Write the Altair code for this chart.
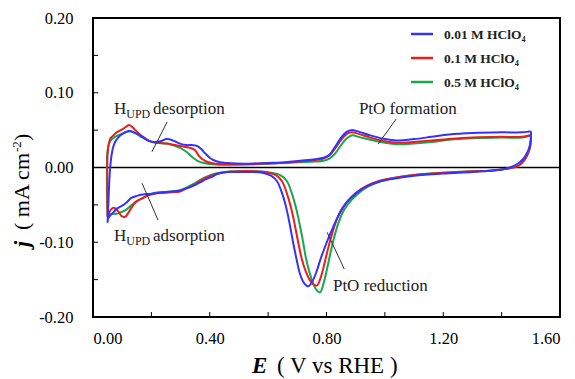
import altair as alt
import pandas as pd

# ---------------- data ----------------
series_names = ["0.01 M HClO\u2084", "0.1 M HClO\u2084", "0.5 M HClO\u2084"]
series_colors = ["#3333FF", "#EE1C1C", "#16A84A"]

blue_E = [0.050, 0.053, 0.057, 0.062, 0.069, 0.077, 0.086, 0.100, 0.115, 0.127, 0.140, 0.161, 0.185, 0.206,
          0.230, 0.253, 0.275, 0.298, 0.320, 0.340, 0.356, 0.370, 0.384, 0.400, 0.412, 0.435, 0.460, 0.520,
          0.600, 0.660, 0.710, 0.760, 0.790, 0.810, 0.830, 0.850, 0.870, 0.885, 0.910, 0.950, 1.000, 1.040,
          1.100, 1.160, 1.220, 1.300, 1.400, 1.470, 1.495, 1.500,
          1.500, 1.497, 1.488, 1.473, 1.455, 1.435, 1.410, 1.370, 1.300, 1.200, 1.100, 1.030, 0.980, 0.940,
          0.900, 0.870, 0.846, 0.820, 0.800, 0.780, 0.767, 0.752, 0.737, 0.722, 0.709, 0.697, 0.686, 0.675,
          0.664, 0.650, 0.630, 0.610, 0.580, 0.540, 0.500, 0.460, 0.430, 0.410, 0.385, 0.367, 0.340, 0.320,
          0.298, 0.270, 0.240, 0.200, 0.170, 0.150, 0.130, 0.117, 0.100, 0.082, 0.065, 0.052, 0.050]
blue_j = [-0.074, -0.045, -0.010, 0.012, 0.027, 0.035, 0.040, 0.045, 0.048, 0.049, 0.047, 0.043, 0.037, 0.034,
          0.035, 0.038, 0.036, 0.032, 0.030, 0.030, 0.029, 0.025, 0.019, 0.013, 0.010, 0.007, 0.006, 0.005,
          0.006, 0.007, 0.009, 0.011, 0.013, 0.017, 0.028, 0.040, 0.048, 0.050, 0.048, 0.043, 0.038, 0.036,
          0.038, 0.041, 0.044, 0.046, 0.047, 0.047, 0.048, 0.048,
          0.040, 0.030, 0.020, 0.011, 0.005, 0.001, -0.002, -0.004, -0.006, -0.008, -0.011, -0.015, -0.019, -0.025,
          -0.035, -0.046, -0.061, -0.082, -0.101, -0.122, -0.138, -0.152, -0.159, -0.154, -0.142, -0.122, -0.101, -0.078,
          -0.057, -0.037, -0.018, -0.011, -0.007, -0.006, -0.006, -0.006, -0.008, -0.012, -0.016, -0.020, -0.025, -0.028,
          -0.031, -0.032, -0.033, -0.035, -0.036, -0.038, -0.041, -0.046, -0.051, -0.055, -0.062, -0.068, -0.074]

red_E = [0.050, 0.049, 0.049, 0.050, 0.055, 0.060, 0.070, 0.081, 0.100, 0.115, 0.123, 0.135, 0.150, 0.175,
         0.195, 0.220, 0.253, 0.280, 0.310, 0.335, 0.350, 0.362, 0.375, 0.395, 0.420, 0.480, 0.560, 0.640,
         0.710, 0.760, 0.790, 0.810, 0.830, 0.850, 0.870, 0.885, 0.910, 0.950, 1.000, 1.040, 1.100, 1.160,
         1.220, 1.300, 1.400, 1.470, 1.495, 1.500,
         1.500, 1.497, 1.490, 1.478, 1.460, 1.440, 1.410, 1.370, 1.300, 1.200, 1.100, 1.030, 0.980, 0.940,
         0.900, 0.875, 0.850, 0.830, 0.811, 0.795, 0.782, 0.767, 0.755, 0.742, 0.728, 0.715, 0.703, 0.692,
         0.681, 0.667, 0.647, 0.625, 0.600, 0.550, 0.500, 0.460, 0.430, 0.405, 0.385, 0.367, 0.345, 0.320,
         0.298, 0.270, 0.240, 0.210, 0.190, 0.170, 0.150, 0.135, 0.122, 0.110, 0.098, 0.085, 0.072, 0.062,
         0.054, 0.050]
red_j = [-0.066, -0.035, -0.005, 0.019, 0.033, 0.039, 0.043, 0.047, 0.051, 0.055, 0.057, 0.054, 0.048, 0.040,
         0.035, 0.033, 0.032, 0.030, 0.028, 0.026, 0.023, 0.016, 0.011, 0.007, 0.005, 0.004, 0.005, 0.006,
         0.008, 0.010, 0.012, 0.016, 0.026, 0.037, 0.045, 0.047, 0.045, 0.040, 0.035, 0.033, 0.034, 0.036,
         0.038, 0.040, 0.041, 0.041, 0.043, 0.043,
         0.036, 0.027, 0.019, 0.010, 0.003, 0.000, -0.002, -0.004, -0.005, -0.007, -0.010, -0.014, -0.018, -0.024,
         -0.034, -0.044, -0.057, -0.075, -0.100, -0.125, -0.145, -0.158, -0.156, -0.150, -0.138, -0.122, -0.100, -0.078,
         -0.058, -0.038, -0.018, -0.010, -0.007, -0.005, -0.005, -0.006, -0.008, -0.011, -0.014, -0.018, -0.024, -0.028,
         -0.032, -0.033, -0.034, -0.035, -0.037, -0.041, -0.045, -0.052, -0.060, -0.066, -0.065, -0.058, -0.054, -0.056,
         -0.062, -0.066]

green_E = [0.050, 0.048, 0.048, 0.049, 0.054, 0.060, 0.075, 0.100, 0.120, 0.130, 0.145, 0.165, 0.190, 0.220,
           0.253, 0.280, 0.300, 0.320, 0.340, 0.358, 0.380, 0.420, 0.500, 0.600, 0.700, 0.760, 0.790, 0.810,
           0.830, 0.850, 0.870, 0.888, 0.910, 0.950, 1.000, 1.040, 1.100, 1.160, 1.220, 1.300, 1.400, 1.470,
           1.495, 1.500,
           1.500, 1.497, 1.490, 1.478, 1.460, 1.440, 1.410, 1.370, 1.300, 1.200, 1.100, 1.030, 0.980, 0.940,
           0.905, 0.880, 0.860, 0.840, 0.822, 0.806, 0.792, 0.778, 0.768, 0.757, 0.743, 0.730, 0.720, 0.709,
           0.698, 0.684, 0.664, 0.640, 0.610, 0.560, 0.500, 0.450, 0.420, 0.398, 0.380, 0.362, 0.345, 0.325,
           0.300, 0.270, 0.240, 0.210, 0.190, 0.170, 0.150, 0.130, 0.112, 0.095, 0.080, 0.065, 0.054, 0.050]
green_j = [-0.066, -0.035, -0.005, 0.018, 0.031, 0.036, 0.041, 0.045, 0.048, 0.048, 0.046, 0.041, 0.036, 0.033,
           0.032, 0.029, 0.026, 0.021, 0.014, 0.009, 0.006, 0.004, 0.004, 0.005, 0.007, 0.008, 0.009, 0.012,
           0.019, 0.030, 0.039, 0.043, 0.041, 0.037, 0.033, 0.031, 0.032, 0.034, 0.037, 0.039, 0.040, 0.040,
           0.042, 0.042,
           0.035, 0.026, 0.018, 0.010, 0.003, 0.000, -0.002, -0.004, -0.005, -0.007, -0.010, -0.014, -0.019, -0.026,
           -0.036, -0.046, -0.057, -0.075, -0.100, -0.128, -0.152, -0.167, -0.165, -0.158, -0.142, -0.122, -0.100, -0.078,
           -0.058, -0.038, -0.018, -0.010, -0.007, -0.005, -0.005, -0.006, -0.008, -0.011, -0.014, -0.018, -0.022, -0.026,
           -0.030, -0.032, -0.033, -0.034, -0.037, -0.041, -0.045, -0.051, -0.057, -0.060, -0.062, -0.062, -0.064, -0.066]

x_tick_labels = [0.0, 0.4, 0.8, 1.2, 1.6]
y_tick_labels = [-0.2, -0.1, 0.0, 0.1, 0.2]
x_minor_ticks = [0.2, 0.4, 0.6, 0.8, 1.0, 1.2, 1.4]
y_minor_ticks = [-0.15, -0.10, -0.05, 0.05, 0.10, 0.15]

# annotations (text, left E, baseline j, font size)
ann_text = ["H", "UPD", "desorption", "H", "UPD", "adsorption", "PtO formation", "PtO reduction"]
ann_E = [0.072, 0.114, 0.2055, 0.072, 0.114, 0.2055, 0.911, 0.822]
ann_j = [0.0718, 0.0660, 0.0718, -0.0982, -0.1035, -0.0982, 0.0718, -0.1658]
ann_size = [17, 12, 17, 17, 12, 17, 17, 17]

lead_E1 = [0.254, 0.168, 1.039, 0.802]
lead_j1 = [0.061, -0.021, 0.065, -0.0866]
lead_E2 = [0.202, 0.223, 0.977, 0.861]
lead_j2 = [0.021, -0.0705, 0.0315, -0.136]

# ---------------- build tables ----------------
rows = []
for name, Es, js in [(series_names[2], green_E, green_j),
                     (series_names[1], red_E, red_j),
                     (series_names[0], blue_E, blue_j)]:
    for i, (e, j) in enumerate(zip(Es, js)):
        rows.append({"series": name, "idx": i, "E": e, "j": j})
cv = pd.DataFrame(rows)

W, H = 467, 299
SERIF = "'Liberation Serif', 'Times New Roman', Times, serif"

xscale = alt.Scale(domain=[0, 1.6], nice=False, zero=False)
yscale = alt.Scale(domain=[-0.2, 0.2], nice=False, zero=False)

fmt_expr = "replace(format(datum.value, '.2f'), '\u2212', '-')"

xaxis = alt.Axis(values=x_tick_labels, labelExpr=fmt_expr, title=None, labelFont=SERIF,
                 labelFontSize=16.5, labelColor="black", labelPadding=13, ticks=False, tickSize=0,
                 domain=False, grid=False)
yaxis = alt.Axis(values=y_tick_labels, labelExpr=fmt_expr, title=None, labelFont=SERIF,
                 labelFontSize=16.5, labelColor="black", labelPadding=20, ticks=False, tickSize=0,
                 domain=False, grid=False)

lines = alt.Chart(cv).mark_line(strokeWidth=2, interpolate="catmull-rom", clip=True).encode(
    x=alt.X("E:Q", scale=xscale, axis=xaxis),
    y=alt.Y("j:Q", scale=yscale, axis=yaxis),
    color=alt.Color("series:N", scale=alt.Scale(domain=series_names, range=series_colors), legend=None),
    order=alt.Order("idx:Q"),
)

zero = alt.Chart(pd.DataFrame({"j": [0.0]})).mark_rule(color="black", strokeWidth=1.5).encode(
    y=alt.Y("j:Q", scale=yscale), x=alt.value(0), x2=alt.value(W))

xt = alt.Chart(pd.DataFrame({"E": x_minor_ticks})).mark_rule(color="black", strokeWidth=1).encode(
    x=alt.X("E:Q", scale=xscale), y=alt.value(H), y2=alt.value(H - 5))
yt = alt.Chart(pd.DataFrame({"j": y_minor_ticks})).mark_rule(color="black", strokeWidth=1).encode(
    y=alt.Y("j:Q", scale=yscale), x=alt.value(0), x2=alt.value(5))

leads = alt.Chart(pd.DataFrame({"E1": lead_E1, "j1": lead_j1, "E2": lead_E2, "j2": lead_j2})).mark_rule(
    color="#333333", strokeWidth=1).encode(
    x=alt.X("E1:Q", scale=xscale), y=alt.Y("j1:Q", scale=yscale), x2="E2:Q", y2="j2:Q")

ann_df = pd.DataFrame({"t": ann_text, "E": ann_E, "j": ann_j, "s": ann_size})
anns = alt.Chart(ann_df).mark_text(align="left", baseline="alphabetic", font=SERIF, color="#222222").encode(
    x=alt.X("E:Q", scale=xscale), y=alt.Y("j:Q", scale=yscale), text="t:N",
    size=alt.Size("s:Q", scale=None, legend=None))

layers = [zero, xt, yt, lines, leads, anns]

# legend (custom, inside plot, top right)
one = pd.DataFrame({"a": [0]})
leg_y = [16, 40, 64]
for name, col, yy in zip(series_names, series_colors, leg_y):
    layers.append(alt.Chart(one).mark_rule(color=col, strokeWidth=2.5).encode(
        x=alt.value(318), x2=alt.value(340), y=alt.value(yy)))
    layers.append(alt.Chart(one).mark_text(align="left", baseline="middle", font=SERIF, fontSize=13.5,
                                           fontWeight="bold", color="#222222").encode(
        x=alt.value(351), y=alt.value(yy + 1), text=alt.value(name)))

# axis titles
layers.append(alt.Chart(one).mark_text(align="left", baseline="alphabetic", font=SERIF, fontSize=23,
                                       fontWeight="bold", fontStyle="italic", color="black").encode(
    x=alt.value(159), y=alt.value(355), text=alt.value("E")))
layers.append(alt.Chart(one).mark_text(align="left", baseline="alphabetic", font=SERIF, fontSize=23,
                                       color="black").encode(
    x=alt.value(184), y=alt.value(355), text=alt.value("( V vs RHE )")))

layers.append(alt.Chart(one).mark_text(align="center", baseline="alphabetic", font=SERIF, fontSize=22,
                                       fontWeight="bold", fontStyle="italic", angle=270, color="black").encode(
    x=alt.value(-64), y=alt.value(226), text=alt.value("j")))
layers.append(alt.Chart(one).mark_text(align="left", baseline="alphabetic", font=SERIF, fontSize=22,
                                       angle=270, color="black").encode(
    x=alt.value(-64), y=alt.value(212), text=alt.value("( mA cm")))
layers.append(alt.Chart(one).mark_text(align="left", baseline="alphabetic", font=SERIF, fontSize=13,
                                       angle=270, color="black").encode(
    x=alt.value(-72), y=alt.value(134), text=alt.value("-2")))
layers.append(alt.Chart(one).mark_text(align="left", baseline="alphabetic", font=SERIF, fontSize=22,
                                       angle=270, color="black").encode(
    x=alt.value(-64), y=alt.value(123), text=alt.value(" )")))

chart = alt.layer(*layers).properties(
    width=W, height=H,
    autosize=alt.AutoSizeParams(type="none"),
    padding={"left": 85, "top": 10, "right": 7, "bottom": 62},
    background="white",
).configure_view(stroke="black", strokeWidth=2)

chart.save("out.html", embed_options={"renderer": "svg", "actions": False})
